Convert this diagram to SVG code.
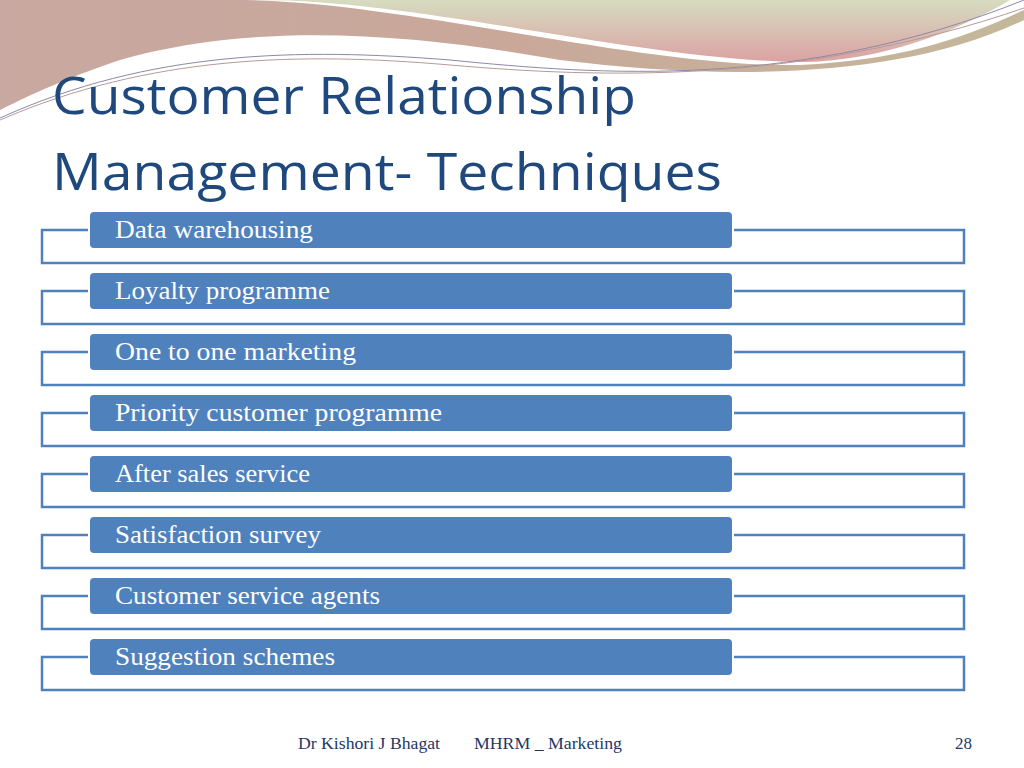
<svg xmlns="http://www.w3.org/2000/svg" width="1024" height="768" viewBox="0 0 1024 768">
<defs>
<linearGradient id="g1" x1="0" y1="0" x2="1" y2="0"><stop offset="0" stop-color="#c8a8a0"/><stop offset="0.5" stop-color="#c9a89a"/><stop offset="1" stop-color="#c4b89a"/></linearGradient>
<linearGradient id="g2" x1="0" y1="0" x2="0" y2="1"><stop offset="0" stop-color="#d6dcc0"/><stop offset="1" stop-color="#dba2a2"/></linearGradient>
<style>
.o{fill:none;stroke:#4f81bd;stroke-width:2.5}
.b{fill:#4f81bd}
.t{font-family:"Liberation Serif",serif;font-size:26px;fill:#fff}
.f{font-family:"Liberation Serif",serif;font-size:17px;fill:#1f3864}
</style>
</defs>
<rect width="1024" height="768" fill="#fff"/>
<g id="background">
<path d="M0 0 H1024 V20 C900 80 720 80 560 60 C420 35 260 20 120 60 C60 80 20 100 0 110 Z" fill="url(#g1)"/>
<path d="M235 0 H1024 V10 C960 40 900 60 800 65 C640 68 400 0 235 0 Z" fill="#fff"/>
<path d="M260 0 H1010 C960 30 880 62 800 62 C640 60 420 0 260 0 Z" fill="url(#g2)"/>
<path d="M0 118 C150 50 300 48 450 60 C600 75 800 90 1024 0" fill="none" stroke="#8a8aa8" stroke-width="1"/>
<path d="M0 120 C150 55 300 52 450 65 C600 78 800 85 1024 8" fill="none" stroke="#b89a9a" stroke-width="1"/>
</g>
<g id="title" font-family="'Open Sans','Noto Sans',sans-serif" font-size="52" fill="#1f497d">
<text x="52" y="114" textLength="584" lengthAdjust="spacingAndGlyphs">Customer Relationship</text>
<text x="52" y="190" textLength="670" lengthAdjust="spacingAndGlyphs">Management- Techniques</text>
</g>
<g id="connectors">
<path class="o" d="M88 230 H42 V263 H964 V230 H734"/>
<path class="o" d="M88 291 H42 V324 H964 V291 H734"/>
<path class="o" d="M88 352 H42 V385 H964 V352 H734"/>
<path class="o" d="M88 413 H42 V446 H964 V413 H734"/>
<path class="o" d="M88 474 H42 V507 H964 V474 H734"/>
<path class="o" d="M88 535 H42 V568 H964 V535 H734"/>
<path class="o" d="M88 596 H42 V629 H964 V596 H734"/>
<path class="o" d="M88 657 H42 V690 H964 V657 H734"/>
</g>
<g id="n1"><rect class="b" x="90" y="212" width="642" height="36" rx="4"/><text class="t" x="115" y="238" textLength="198" lengthAdjust="spacingAndGlyphs">Data warehousing</text></g>
<g id="n2"><rect class="b" x="90" y="273" width="642" height="36" rx="4"/><text class="t" x="115" y="299" textLength="215" lengthAdjust="spacingAndGlyphs">Loyalty programme</text></g>
<g id="n3"><rect class="b" x="90" y="334" width="642" height="36" rx="4"/><text class="t" x="115" y="360" textLength="241" lengthAdjust="spacingAndGlyphs">One to one marketing</text></g>
<g id="n4"><rect class="b" x="90" y="395" width="642" height="36" rx="4"/><text class="t" x="115" y="421" textLength="327" lengthAdjust="spacingAndGlyphs">Priority customer programme</text></g>
<g id="n5"><rect class="b" x="90" y="456" width="642" height="36" rx="4"/><text class="t" x="115" y="482" textLength="195" lengthAdjust="spacingAndGlyphs">After sales service</text></g>
<g id="n6"><rect class="b" x="90" y="517" width="642" height="36" rx="4"/><text class="t" x="115" y="543" textLength="206" lengthAdjust="spacingAndGlyphs">Satisfaction survey</text></g>
<g id="n7"><rect class="b" x="90" y="578" width="642" height="36" rx="4"/><text class="t" x="115" y="604" textLength="265" lengthAdjust="spacingAndGlyphs">Customer service agents</text></g>
<g id="n8"><rect class="b" x="90" y="639" width="642" height="36" rx="4"/><text class="t" x="115" y="665" textLength="220" lengthAdjust="spacingAndGlyphs">Suggestion schemes</text></g>
<g id="footer">
<text class="f" x="298" y="749" textLength="142" lengthAdjust="spacingAndGlyphs">Dr Kishori J Bhagat</text>
<text class="f" x="474" y="749" textLength="148" lengthAdjust="spacingAndGlyphs">MHRM _ Marketing</text>
<text class="f" x="955" y="749">28</text>
</g>
</svg>
